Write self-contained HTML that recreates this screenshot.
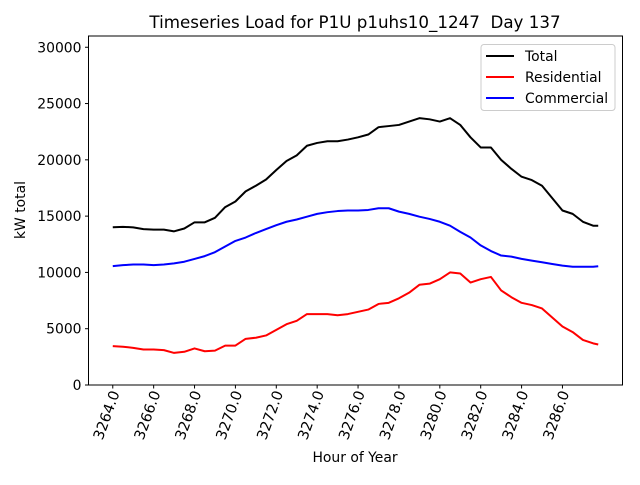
<!DOCTYPE html>
<html><head><meta charset="utf-8"><style>
body{margin:0;background:#fff}
svg text{font-family:"DejaVu Sans","Liberation Sans",sans-serif;fill:#000}
</style></head><body>
<svg id="chart" width="640" height="480" xmlns="http://www.w3.org/2000/svg">
<rect width="640" height="480" fill="#fff"/>
<text x="355" y="28" font-size="16.7" text-anchor="middle" style="white-space:pre">Timeseries Load for P1U p1uhs10_1247  Day 137</text>
<g id="plot"></g>
<text x="355" y="462" font-size="13.9" text-anchor="middle">Hour of Year</text>
<text transform="translate(25,210) rotate(-90)" font-size="13.9" text-anchor="middle">kW total</text>
<g>
<rect x="481" y="44.5" width="134" height="66" rx="3" fill="#fff" fill-opacity="0.8" stroke="#ccc"/>
<line x1="486" y1="56" x2="514" y2="56" stroke="#000" stroke-width="2"/>
<text x="525" y="61" font-size="13.9">Total</text>
<line x1="486" y1="77" x2="514" y2="77" stroke="#f00" stroke-width="2"/>
<text x="525" y="82" font-size="13.9">Residential</text>
<line x1="486" y1="98" x2="514" y2="98" stroke="#00f" stroke-width="2"/>
<text x="525" y="103" font-size="13.9">Commercial</text>
</g>
</svg>
<script>
const hours = [3264,3264.5,3265,3265.5,3266,3266.5,3267,3267.5,3268,3268.5,3269,3269.5,3270,3270.5,3271,3271.5,3272,3272.5,3273,3273.5,3274,3274.5,3275,3275.5,3276,3276.5,3277,3277.5,3278,3278.5,3279,3279.5,3280,3280.5,3281,3281.5,3282,3282.5,3283,3283.5,3284,3284.5,3285,3285.5,3286,3286.5,3287,3287.5,3287.75];
const residential = [3450,3400,3300,3150,3150,3100,2850,2950,3250,3000,3050,3500,3500,4100,4200,4400,4900,5400,5700,6300,6300,6300,6200,6300,6500,6700,7200,7300,7700,8200,8900,9000,9400,10000,9900,9100,9400,9600,8400,7800,7300,7100,6800,6000,5200,4700,4000,3700,3600];
const commercial = [10560,10650,10700,10700,10650,10700,10800,10950,11200,11450,11800,12300,12800,13100,13500,13850,14200,14500,14700,14950,15200,15350,15450,15500,15500,15550,15700,15700,15400,15200,14950,14750,14500,14150,13600,13100,12400,11900,11500,11400,11200,11050,10900,10750,10600,10500,10500,10500,10550];
const total = [14010,14050,14000,13850,13800,13800,13650,13900,14450,14450,14850,15800,16300,17200,17700,18250,19100,19900,20400,21250,21500,21650,21650,21800,22000,22250,22900,23000,23100,23400,23700,23600,23400,23700,23100,22000,21100,21100,20000,19200,18500,18200,17700,16600,15500,15200,14500,14150,14150];
const xTicks = [3264,3266,3268,3270,3272,3274,3276,3278,3280,3282,3284,3286];
const xTickLabels = ["3264.0","3266.0","3268.0","3270.0","3272.0","3274.0","3276.0","3278.0","3280.0","3282.0","3284.0","3286.0"];
const yTicks = [0,5000,10000,15000,20000,25000,30000];

const L=88.5,R=622.5,T=36,B=385;
const xMin=3262.8125,xMax=3288.9375,yMin=0,yMax=31000;
const xs=v=>L+(v-xMin)/(xMax-xMin)*(R-L);
const ys=v=>B-(v-yMin)/(yMax-yMin)*(B-T);
const NS="http://www.w3.org/2000/svg";
const g=document.getElementById('plot');
function mk(t,a){const e=document.createElementNS(NS,t);for(const k in a)e.setAttribute(k,a[k]);g.appendChild(e);return e;}

yTicks.forEach(v=>{
  const tk=mk('line',{x1:L-3.5,x2:L,y1:ys(v),y2:ys(v),stroke:'#000'});
  
  
  const t=mk('text',{x:L-7,y:ys(v)+5,'font-size':13.9,'text-anchor':'end'});
  
  
  t.textContent=String(v);
});
xTicks.forEach((v,i)=>{
  const tk=mk('line',{x1:xs(v),x2:xs(v),y1:B,y2:B+3.5,stroke:'#000'});
  
  
  const t=mk('text',{'font-size':14.5,'text-anchor':'end',transform:`translate(${xs(v)+7},${B+8}) rotate(-70)`});
  
  
  t.textContent=xTickLabels[i];
});
function series(arr,color,name){
  const d=arr.map((v,i)=>(i?'L':'M')+xs(hours[i]).toFixed(2)+','+ys(v).toFixed(2)).join('');
  const p=mk('path',{d:d,fill:'none',stroke:color,'stroke-width':2,'stroke-linejoin':'round'});
  
  
}
series(total,'#000','total-line');
series(residential,'#f00','residential-line');
series(commercial,'#00f','commercial-line');
const fr=mk('rect',{x:L,y:T,width:R-L,height:B-T,fill:'none',stroke:'#000','stroke-width':1});


</script>
</body></html>
